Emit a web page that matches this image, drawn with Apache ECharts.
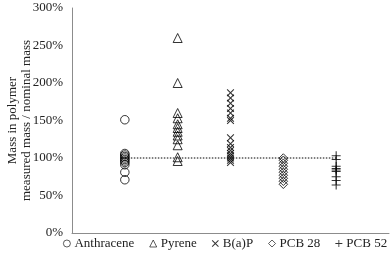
<!DOCTYPE html>
<html><head><meta charset="utf-8">
<script src="https://cdn.jsdelivr.net/npm/echarts@6/dist/echarts.min.js"></script>
<style>html,body{margin:0;padding:0;background:#fff}#c{width:392px;height:256px}</style>
</head><body><div id="c"></div>
<script>
const categories = ['Anthracene', 'Pyrene', 'B(a)P', 'PCB 28', 'PCB 52'];
const anthracene = [151, 106, 104, 102, 100, 98, 96, 94, 91, 81, 71];
const pyrene = [260, 200, 160, 153, 145, 140, 135, 130, 125, 117, 101, 96];
const bap = [187, 180, 173, 166, 160, 153, 150, 127, 119, 114, 110, 106, 103, 100, 97, 94];
const pcb28 = [100, 97, 93, 89, 85, 81, 77, 73, 69, 65];
const pcb52 = [103, 98, 89, 86, 84, 82, 75, 70, 64];
const yTicks = [0, 50, 100, 150, 200, 250, 300];
const reference = 100;

const values = [anthracene, pyrene, bap, pcb28, pcb52];
const crossPath = 'path://M1,0L5,4L9,0L10,1L6,5L10,9L9,10L5,6L1,10L0,9L4,5L0,1Z';
const plusPath = 'path://M4.4,0H5.6V4.4H10V5.6H5.6V10H4.4V5.6H0V4.4H4.4Z';
const symbols = ['circle', 'triangle', crossPath, 'diamond', plusPath];
const sizes = [8.5, 9, 7.5, 8.5, 9];
const hollow = [true, true, false, true, false];
const font = 'Liberation Serif';

const series = categories.map((name, i) => ({
  name, type: 'scatter',
  symbol: symbols[i], symbolSize: sizes[i],
  data: values[i].map(v => [i + 1, v]),
  itemStyle: hollow[i] ? {color: 'rgba(255,255,255,0)', borderColor: '#000', borderWidth: 1}
                       : {color: '#000', borderWidth: 0},
  z: 3
}));
series.push({
  type: 'line', name: 'ref', silent: true, symbol: 'none',
  data: [[1, reference], [categories.length, reference]],
  lineStyle: {color: '#000', width: 1, type: [1.5, 1.5]}, z: 2
});

const chart = echarts.init(document.getElementById('c'));
chart.setOption({
  animation: false,
  grid: {left: 72, right: 3, top: 8, bottom: 23, containLabel: false, outerBoundsMode: 'none'},
  xAxis: {type: 'value', min: 0, max: 6, show: true,
    axisLine: {lineStyle: {color: '#8c8c8c', width: 1}}, axisTick: {show: false},
    axisLabel: {show: false}, splitLine: {show: false}},
  yAxis: {type: 'value', min: yTicks[0], max: yTicks[yTicks.length - 1], interval: 50,
    axisLine: {show: true, lineStyle: {color: '#8c8c8c', width: 1}}, axisTick: {show: false},
    splitLine: {show: false},
    axisLabel: {formatter: '{value}%', color: '#222', fontFamily: font, fontSize: 13, margin: 9},
    name: 'Mass in polymer\nmeasured mass / nominal mass', nameLocation: 'middle', nameRotate: 90,
    nameGap: 38, nameMoveOverlap: false,
    nameTextStyle: {fontFamily: font, fontSize: 13, color: '#222', lineHeight: 14}},
  legend: {
    data: categories, bottom: 1, left: 58, width: 336, itemGap: 15, itemWidth: 7, itemHeight: 7,
    itemStyle: {borderWidth: 0.8},
    textStyle: {fontFamily: font, fontSize: 13, color: '#222', padding: [0, 0, 0, -1]}
  },
  series
});
</script></body></html>
